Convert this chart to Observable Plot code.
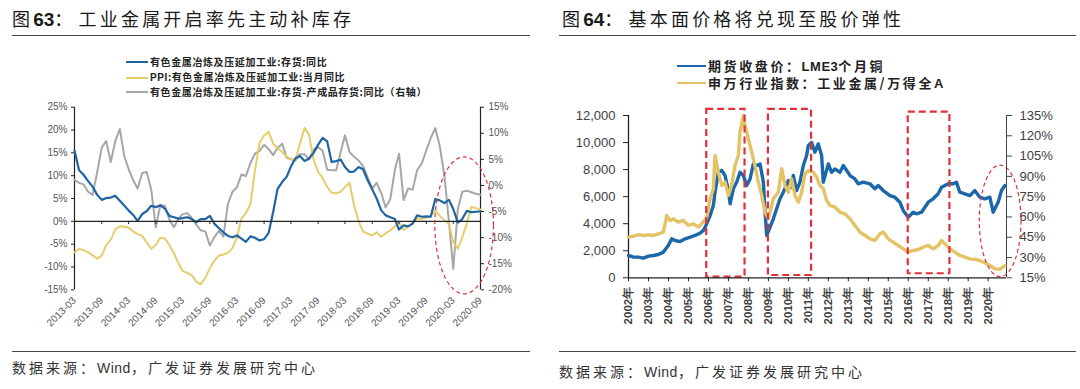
<!DOCTYPE html>
<html><head><meta charset="utf-8">
<script src="https://cdn.jsdelivr.net/npm/d3@7"></script>
<script src="https://cdn.jsdelivr.net/npm/@observablehq/plot@0.6"></script>
<style>
body{margin:0;background:#fff;}
#page{position:relative;width:1080px;height:389px;overflow:hidden;background:#fff;font-family:"Noto Sans CJK SC",sans-serif;}
.title{position:absolute;top:6px;font-size:18px;letter-spacing:3.2px;color:#1a1a1a;white-space:nowrap;line-height:24px;}
.title b{font-family:"Liberation Sans",Arial,sans-serif;font-weight:bold;letter-spacing:0;font-size:19px;}
.rule{position:absolute;height:0;border-top:1.6px solid #444;}
.src{position:absolute;font-size:14px;letter-spacing:3px;color:#333;white-space:nowrap;line-height:18px;}
.src span{font-family:"Liberation Sans",Arial,sans-serif;letter-spacing:0.5px;}
.leg{position:absolute;color:#222;white-space:nowrap;display:flex;align-items:center;}
.leg i{display:inline-block;height:0;margin-right:2px;}
.chart{position:absolute;}
</style></head>
<body><div id="page">
<div class="title" style="left:12px">图<b>63</b>：<span style="margin-left:3px">工业金属开启率先主动补库存</span></div>
<div class="title" style="left:562px">图<b>64</b>：<span style="margin-left:3px">基本面价格将兑现至股价弹性</span></div>
<div class="rule" style="left:12px;top:35px;width:518px"></div>
<div class="rule" style="left:559px;top:35px;width:517px"></div>
<div id="legL"></div>
<div id="legR"></div>
<div id="chartL" class="chart" style="left:0;top:95px"></div>
<div id="chartR" class="chart" style="left:540px;top:100px"></div>
<div class="rule" style="left:12px;top:351px;width:518px"></div>
<div class="rule" style="left:559px;top:351px;width:517px"></div>
<div class="src" style="left:12px;top:358px">数据来源：<span>Wind</span>，广发证券发展研究中心</div>
<div class="src" style="left:559px;top:362px">数据来源：<span>Wind</span>，广发证券发展研究中心</div>
</div>
<script>
// ---------------- Left chart data (monthly, 2013-03 .. 2020-09) ----------------
const leftStart = "2013-03";
const leftEnd = "2020-09";
const leftTickLabels = ["2013-03","2013-09","2014-03","2014-09","2015-03","2015-09","2016-03","2016-09",
  "2017-03","2017-09","2018-03","2018-09","2019-03","2019-09","2020-03","2020-09"];
const leftAxisTicks = [-15,-10,-5,0,5,10,15,20,25];
const rightAxisTicks = [-20,-15,-10,-5,0,5,10,15];
const leftSeriesNames = ["有色金属冶炼及压延加工业:存货:同比","PPI:有色金属冶炼及压延加工业:当月同比","有色金属冶炼及压延加工业:存货-产成品存货:同比（右轴）"];
const inventoryYoY = [15.5,11.2,10.2,8.8,7.6,5.8,4.7,5.1,5.2,5.6,
 4.5,3.4,2.4,1.4,0.1,1.6,2.2,3.4,3.1,3.5,
 2.8,1.2,0.9,0.6,0.7,0.9,0.5,-0.2,0.5,0.5,
 1.2,-0.5,-1.5,-2.4,-3.2,-3.5,-3.1,-3.8,-4.5,-3.3,
 -3.6,-4.2,-3.9,-2.6,2.0,7.1,8.6,9.8,12.0,13.8,
 14.3,13.2,13.7,15.0,16.8,18.3,17.5,13.0,13.2,13.5,
 11.9,10.8,10.9,11.9,11.4,9.0,7.0,5.0,2.4,1.3,
 0.9,0.5,-1.8,-0.9,-1.1,-0.5,1.3,1.0,1.1,1.0,
 4.9,4.6,4.0,4.7,2.7,-0.3,0.5,2.3,2.0,2.1,
 2.2];
const ppiYoY = [-6.8,-6.0,-6.3,-6.8,-7.4,-8.2,-7.5,-5.2,-4.0,-1.8,
 -1.1,-1.2,-1.4,-2.2,-2.8,-3.2,-4.6,-6.0,-5.2,-3.6,
 -3.7,-5.2,-7.0,-9.2,-10.9,-11.3,-11.8,-13.2,-13.8,-12.4,
 -10.3,-8.6,-7.5,-7.3,-6.9,-5.8,-3.6,0.6,1.8,3.8,
 11.0,17.2,18.8,19.6,17.0,16.0,15.2,14.2,13.7,13.5,
 17.0,20.5,19.0,13.5,10.8,9.5,7.5,6.3,6.1,6.5,
 7.5,8.5,3.5,0.0,-2.2,-2.7,-3.1,-2.4,-3.4,-2.6,
 -2.0,-1.1,-0.3,-1.9,-1.2,-0.4,0.6,0.5,0.8,1.2,
 2.4,1.2,0.2,-0.5,-4.5,-6.0,-3.5,-0.5,3.2,2.9,
 2.6];
const finishedGoodsYoY = [1.1,0.5,0.2,-1.2,-1.8,2.5,7.3,8.5,4.5,8.5,
 10.8,5.5,3.2,1.0,-0.6,2.4,2.6,-0.8,-8.0,-3.8,
 -3.9,-6.5,-8.0,-6.4,-5.5,-5.3,-6.2,-7.5,-8.6,-8.8,
 -11.5,-9.9,-8.7,-9.8,-3.5,-1.2,-0.4,2.1,1.8,4.3,
 6.1,6.6,7.8,7.0,5.8,7.2,8.0,5.3,5.0,4.8,
 6.0,6.0,5.0,6.9,7.3,6.7,3.0,2.9,2.9,6.5,
 9.6,6.4,5.5,4.8,3.7,1.6,-0.6,0.5,-1.5,-4.2,
 -2.6,3.0,6.1,-2.8,-0.6,-0.8,2.9,4.2,6.7,9.1,
 11.0,7.5,2.0,-7.0,-16.0,-4.5,-1.2,-1.0,-1.3,-1.6,
 -1.8];
const leftEllipse = {x1:"2019-11", x2:"2020-12", y1:-16, y2:14};

// ---------------- Right chart data ----------------
const rightSeriesNames = ["期货收盘价：LME3个月铜","申万行业指数：工业金属/万得全A"];
const yearLabels = ["2002","2003","2004","2005","2006","2007","2008","2009","2010","2011","2012","2013","2014","2015","2016","2017","2018","2019","2020"];
const copperTicks = [0,2000,4000,6000,8000,10000,12000];
const ratioTicks = [15,30,45,60,75,90,105,120,135];
const copperLME = [
 ["2002-01",1650],["2002-04",1530],["2002-07",1530],["2002-10",1450],
 ["2003-01",1600],["2003-04",1650],["2003-07",1720],["2003-10",1900],
 ["2004-01",2400],["2004-03",2880],["2004-05",2760],["2004-08",2680],["2004-11",2880],
 ["2005-02",3000],["2005-05",3130],["2005-08",3300],["2005-10",3500],["2005-12",4000],
 ["2006-02",4600],["2006-04",5350],["2006-05",6330],["2006-07",7800],["2006-09",7930],["2006-11",7560],
 ["2007-01",6450],["2007-02",5470],["2007-04",6580],["2007-06",7070],["2007-08",7800],["2007-10",7560],["2007-12",6820],
 ["2008-02",7310],["2008-04",8420],["2008-06",8300],["2008-08",8420],["2008-10",7070],["2008-11",4850],["2008-12",3130],
 ["2009-02",3740],["2009-04",4360],["2009-06",5100],["2009-08",5840],["2009-10",6330],
 ["2010-01",7190],["2010-03",6700],["2010-04",7560],["2010-06",6450],["2010-08",7070],["2010-10",8300],["2010-12",9040],
 ["2011-01",9780],["2011-03",10000],["2011-05",9290],["2011-07",9900],["2011-09",9040],["2011-10",7070],
 ["2012-01",8420],["2012-03",7800],["2012-05",8050],["2012-08",7800],["2012-10",8300],
 ["2013-02",7560],["2013-05",7310],["2013-07",6950],["2013-10",7070],
 ["2014-02",6950],["2014-05",6580],["2014-07",6820],["2014-10",6450],
 ["2015-02",6080],["2015-05",5960],["2015-08",5590],["2015-10",4980],
 ["2016-01",4480],["2016-04",4850],["2016-06",4730],["2016-09",4850],
 ["2017-01",5590],["2017-04",5840],["2017-07",6210],["2017-09",6700],
 ["2018-01",6950],["2018-04",6950],["2018-06",7070],["2018-08",6330],["2018-11",6210],
 ["2019-02",6080],["2019-05",6450],["2019-08",5960],["2019-11",5840],
 ["2020-02",5960],["2020-04",4850],["2020-07",5590],["2020-09",6450],["2020-11",6820]
];
const metalsVsA = [
 ["2002-01",45.1],["2002-04",45.8],["2002-07",46.8],["2002-10",46.3],
 ["2003-01",46.8],["2003-04",46.3],["2003-07",47.5],["2003-10",48.8],["2003-12",61.1],
 ["2004-02",57.4],["2004-04",58.6],["2004-07",56.2],["2004-10",57.4],
 ["2005-01",53.7],["2005-04",54.9],["2005-07",52.5],["2005-10",56.2],["2005-12",59.8],
 ["2006-02",73.4],["2006-04",80.8],["2006-05",105.4],["2006-07",93.1],["2006-09",83.3],["2006-11",85.7],
 ["2007-01",75.9],["2007-03",83.3],["2007-05",98.0],["2007-07",105.4],["2007-08",122.7],["2007-10",135.0],["2007-11",127.6],
 ["2008-01",117.8],["2008-03",107.9],["2008-05",98.0],["2008-07",85.7],["2008-09",75.9],["2008-11",63.5],
 ["2009-01",58.6],["2009-02",63.5],["2009-04",73.4],["2009-07",78.3],["2009-09",95.6],["2009-11",83.3],
 ["2010-01",78.3],["2010-03",88.2],["2010-05",75.9],["2010-07",70.9],["2010-09",78.3],["2010-11",92.0],
 ["2011-01",94.3],["2011-04",93.1],["2011-06",89.4],["2011-08",83.3],["2011-10",80.8],["2011-12",72.2],
 ["2012-02",68.5],["2012-05",67.2],["2012-08",63.5],["2012-11",62.3],
 ["2013-02",58.6],["2013-05",53.7],["2013-08",48.8],["2013-11",46.3],
 ["2014-02",43.8],["2014-05",42.6],["2014-08",47.5],["2014-10",48.8],
 ["2015-01",43.8],["2015-04",41.4],["2015-07",38.9],["2015-10",36.4],
 ["2016-01",34.0],["2016-04",35.2],["2016-07",35.9],["2016-10",37.7],
 ["2017-01",38.9],["2017-04",36.4],["2017-07",38.9],["2017-09",42.6],["2017-11",40.1],
 ["2018-02",36.4],["2018-05",34.0],["2018-08",31.5],["2018-11",30.3],
 ["2019-02",29.0],["2019-05",28.6],["2019-08",27.8],["2019-11",26.1],
 ["2020-02",24.1],["2020-05",21.7],["2020-08",21.2],["2020-11",24.1]
];
const highlightBoxes = [
 {x1:"2005-12", x2:"2007-11", y1:50, y2:12450},
 {x1:"2009-01", x2:"2011-03", y1:170, y2:12450},
 {x1:"2016-01", x2:"2018-02", y1:300, y2:12250}
];
const rightEllipse = {x1:"2019-08", x2:"2021-09", y1:50, y2:8300};
const rightDomain = ["2002-01","2020-12"];

// ---------------- Colors ----------------
const cBlue = "#1f64a3", cYellow = "#e6cd6c", cGray = "#a6a6a6", cRed = "#e0303a";
const cBlueR = "#1a68aa", cYellowR = "#e3c366";

const pm = d3.utcParse("%Y-%m");

// ---------------- Legends ----------------
function legend(el, left, top, items, opt){
  const box = document.getElementById(el);
  items.forEach((it,i)=>{
    const d = document.createElement("div");
    d.className = "leg";
    d.style.left = left+"px";
    d.style.top = (top + i*opt.gap)+"px";
    d.style.fontSize = opt.fs+"px";
    d.style.fontWeight = "bold";
    d.style.letterSpacing = opt.ls+"px";
    d.style.lineHeight = opt.lh+"px";
    const ln = document.createElement("i");
    ln.style.width = opt.lw+"px";
    ln.style.borderTop = opt.th+"px solid "+it.color;
    d.appendChild(ln);
    const t = document.createElement("span");
    t.innerHTML = it.html;
    d.appendChild(t);
    box.appendChild(d);
  });
}
legend("legL",126,55,[
  {color:cBlue, html:leftSeriesNames[0]},
  {color:cYellow, html:leftSeriesNames[1].replace("PPI","<b style='font-family:Liberation Sans,Arial'>PPI</b>")},
  {color:cGray, html:leftSeriesNames[2]}
],{gap:15,fs:10,ls:0.6,lh:14,lw:22,th:2.2});
legend("legR",677,57,[
  {color:cBlueR, html:rightSeriesNames[0].replace("LME3","<b style='font-family:Liberation Sans,Arial;letter-spacing:0.5px'>LME3</b>")},
  {color:cYellowR, html:rightSeriesNames[1].replace("A","<b style='font-family:Liberation Sans,Arial'>A</b>")}
],{gap:17,fs:13,ls:2.6,lh:17,lw:29,th:2.6});

// ---------------- Left chart ----------------
const months = d3.utcMonth.range(pm(leftStart), d3.utcMonth.offset(pm(leftEnd),1));
const toLeft = v => -15 + (v + 20) * 40 / 35;
const fromLeft = v => -20 + (v + 15) * 35 / 40;
const rowsBlue = months.map((d,i)=>({date:d, v:inventoryYoY[i]}));
const rowsYellow = months.map((d,i)=>({date:d, v:ppiYoY[i]}));
const rowsGray = months.map((d,i)=>({date:d, v:toLeft(finishedGoodsYoY[i])}));
const leftTickDates = leftTickLabels.map(pm);

const LH = 255, LTOP = 95;
const chartL = Plot.plot({
  width: 540, height: LH,
  marginLeft: 74, marginRight: 60, marginTop: 106.7 - LTOP, marginBottom: LH + LTOP - 289.3,
  style: {fontFamily: "Liberation Sans, Arial, sans-serif", fontSize: "10px", color: "#555", overflow: "visible", background: "transparent"},
  x: {type: "utc", domain: [pm(leftStart), pm(leftEnd)]},
  y: {domain: [-15, 25]},
  marks: [
    Plot.ruleX([pm(leftStart), pm(leftEnd)], {stroke: "#222", strokeWidth: 1.2}),
    Plot.lineY(rowsGray, {x: "date", y: "v", stroke: cGray, strokeWidth: 2}),
    Plot.lineY(rowsYellow, {x: "date", y: "v", stroke: cYellow, strokeWidth: 2}),
    Plot.lineY(rowsBlue, {x: "date", y: "v", stroke: cBlue, strokeWidth: 2.2}),
    Plot.ruleY([0], {stroke: "#222", strokeWidth: 1.3}),
    Plot.ruleX(leftTickDates.slice(1), {x: d => d, y1: 0, y2: -0.7, stroke: "#222"}),
    Plot.axisY({anchor: "left", ticks: leftAxisTicks, tickFormat: d => d + "%", tickSize: 3, tickPadding: 4, label: null, fontSize: 10, stroke: "#222"}),
    Plot.axisY({anchor: "right", ticks: rightAxisTicks.map(toLeft), tickFormat: d => Math.round(fromLeft(d)) + "%", tickSize: 3, tickPadding: 5, label: null, fontSize: 10, stroke: "#222"}),
    Plot.axisX({anchor: "bottom", ticks: leftTickDates, tickFormat: d3.utcFormat("%Y-%m"), tickRotate: -45, tickSize: 0, tickPadding: 9, label: null, fontSize: 10})
  ]
});
document.getElementById("chartL").appendChild(chartL);

function addEllipse(chart, e, parse, stroke, width, dash){
  const sx = chart.scale("x"), sy = chart.scale("y");
  const fx = sx.apply ? sx.apply : d3.scaleUtc(sx.domain, sx.range);
  const fy = sy.apply ? sy.apply : d3.scaleLinear(sy.domain, sy.range);
  const x1 = fx(parse(e.x1)), x2 = fx(parse(e.x2));
  const y1 = fy(e.y1), y2 = fy(e.y2);
  d3.select(chart).append("ellipse")
    .attr("cx", (x1 + x2) / 2).attr("cy", (y1 + y2) / 2)
    .attr("rx", Math.abs(x2 - x1) / 2).attr("ry", Math.abs(y2 - y1) / 2)
    .attr("fill", "none").attr("stroke", stroke).attr("stroke-width", width)
    .attr("stroke-dasharray", dash);
}
addEllipse(chartL, leftEllipse, pm, cRed, 1.2, "4,3");

// ---------------- Right chart ----------------
const toCopper = p => (p - 15) * 100;
const rowsCopper = copperLME.map(([d,v]) => ({date: pm(d), v}));
const rowsRatio = metalsVsA.map(([d,v]) => ({date: pm(d), v: toCopper(v)}));
const yearDates = yearLabels.map(y => pm(y + "-01"));
const boxes = highlightBoxes.map(b => ({x1: pm(b.x1), x2: pm(b.x2), y1: b.y1, y2: b.y2}));

const RH = 250, RTOP = 100;
const chartR = Plot.plot({
  width: 540, height: RH,
  marginLeft: 88, marginRight: 74, marginTop: 115 - RTOP, marginBottom: RH + RTOP - 277.3,
  style: {fontFamily: "Liberation Sans, Arial, sans-serif", fontSize: "13px", color: "#404040", overflow: "visible", background: "transparent"},
  x: {type: "utc", domain: rightDomain.map(pm)},
  y: {domain: [0, 12000]},
  marks: [
    Plot.ruleX([pm(rightDomain[0])], {stroke: "#222", strokeWidth: 1.3}),
    Plot.ruleX([pm(rightDomain[1])], {stroke: "#444", strokeWidth: 1}),
    Plot.lineY(rowsCopper, {x: "date", y: "v", stroke: cBlueR, strokeWidth: 3.4, strokeLinejoin: "round"}),
    Plot.lineY(rowsRatio, {x: "date", y: "v", stroke: cYellowR, strokeWidth: 3.4, strokeLinejoin: "round"}),
    Plot.rect(boxes, {x1: "x1", x2: "x2", y1: "y1", y2: "y2", fill: "none", stroke: cRed, strokeWidth: 2.2, strokeDasharray: "7,4"}),
    Plot.ruleY([0], {stroke: "#222", strokeWidth: 1.3}),
    Plot.axisY({anchor: "left", ticks: copperTicks, tickFormat: d3.format(","), tickSize: 5, tickPadding: 8, label: null, fontSize: 13, stroke: "#222"}),
    Plot.axisY({anchor: "right", ticks: ratioTicks.map(toCopper), tickFormat: d => Math.round(d / 100 + 15) + "%", tickSize: 5, tickPadding: 8, label: null, fontSize: 13, stroke: "#444"}),
    Plot.axisX({anchor: "bottom", ticks: yearDates, tickFormat: d => d.getUTCFullYear() + "年", tickRotate: -90, tickSize: 4, tickPadding: 5, label: null, fontSize: 11.5, fontWeight: "bold", stroke: "#222"})
  ]
});
document.getElementById("chartR").appendChild(chartR);
addEllipse(chartR, rightEllipse, pm, cRed, 1.2, "4,3");
</script>
</body></html>
